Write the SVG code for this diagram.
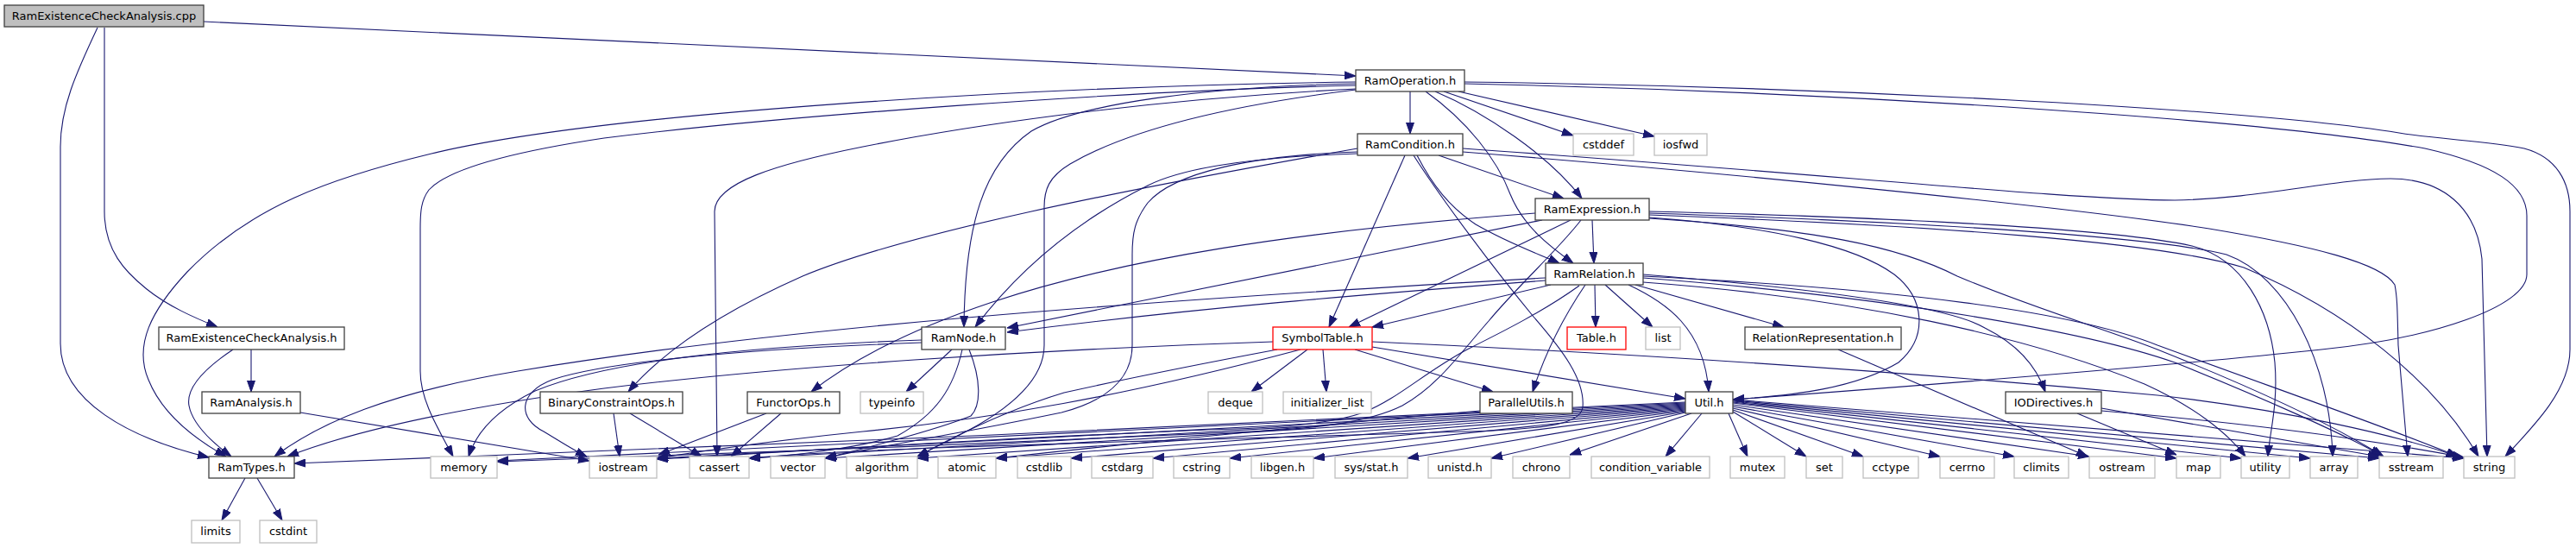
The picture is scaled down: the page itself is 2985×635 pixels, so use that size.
<svg xmlns="http://www.w3.org/2000/svg" width="2985" height="635" viewBox="0 0 2985 635">
<defs>
<marker id="a" markerWidth="13" markerHeight="10" refX="13" refY="5" orient="auto" markerUnits="userSpaceOnUse">
<path d="M0,0.5 L13,5 L0,9.5 z" fill="#191970" stroke="#191970" stroke-width="1"/>
</marker>
<style>
.n rect{fill:#fff;stroke:#404040;stroke-width:1.3}
.n.x rect{stroke:#bfbfbf}
.n.r rect{stroke:#ff0000}
.n.root rect{fill:#bfbfbf}
.n text{font-family:"DejaVu Sans","Liberation Sans",sans-serif;font-size:13px;text-anchor:middle;fill:#000}
#edges path{fill:none;stroke:#191970;stroke-width:1.1;marker-end:url(#a)}
</style>
</defs>
<rect width="2985" height="635" fill="#fff"/>
<g id="edges">
<path d="M236,25 L1571,88"/>
<path d="M113,32 C88,85 70,125 70,170 L70,398 C70,465 150,508 242,530"/>
<path d="M121,32 L121,245 C121,290 145,315 170,335 C195,355 225,368 252,379"/>
<path d="M291,405 L291,454"/>
<path d="M270,405 C240,425 215,448 219,470 C223,492 245,512 268,529"/>
<path d="M348,478 L683,534"/>
<path d="M284,554 L257,603"/>
<path d="M298,554 L327,603"/>
<path d="M1634,106 L1634,155"/>
<path d="M1663,106 C1720,130 1795,180 1833,230"/>
<path d="M1652,106 C1700,140 1735,185 1750,225 C1765,262 1795,285 1823,305"/>
<path d="M1673,106 L1823,157"/>
<path d="M1690,106 L1917,158"/>
<path d="M1697,95 C2100,100 2600,125 2780,154 C2830,162 2880,163 2925,172 C2962,182 2978,210 2978,245 L2978,405 C2978,450 2940,490 2903,529"/>
<path d="M1697,97 C2100,106 2600,135 2810,172 C2890,190 2928,215 2928,250 L2928,318 C2928,355 2820,392 2690,405 C2520,423 2250,445 2008,463"/>
<path d="M1571,95 C1200,100 700,130 500,178 C380,207 290,240 217,315 C175,360 155,400 172,440 C188,480 228,510 262,529"/>
<path d="M1571,99 C1300,105 900,135 700,160 C600,175 520,195 497,220 C488,232 487,245 487,265 L487,430 C487,462 505,492 525,529"/>
<path d="M1571,103 C1300,117 1100,150 1000,170 C900,190 828,212 828,245 L831,529"/>
<path d="M1571,97 C1400,100 1250,120 1195,152 C1140,190 1118,260 1117,379"/>
<path d="M1571,104 C1400,125 1300,155 1240,190 C1215,205 1210,220 1210,240 L1210,400 C1210,445 1160,480 1110,505 C1095,513 1080,520 1063,529"/>
<path d="M1667,180 L1812,230"/>
<path d="M1642,180 C1660,215 1680,240 1710,260 C1750,283 1785,295 1807,305"/>
<path d="M1628,180 L1540,379"/>
<path d="M1638,180 C1670,230 1730,310 1777,367 C1810,405 1837,440 1834,472 C1832,490 1800,497 1700,500 C1400,510 1000,518 868,531"/>
<path d="M1573,178 C1450,182 1370,195 1330,215 C1260,250 1190,300 1130,379"/>
<path d="M1573,172 C1300,220 1050,270 930,320 C835,362 770,405 728,454"/>
<path d="M1573,176 C1450,180 1360,200 1330,235 C1315,255 1312,270 1312,295 L1312,400 C1312,440 1280,465 1230,478 C1100,505 1000,520 956,531"/>
<path d="M1695,176 C2000,200 2400,240 2560,265 C2680,285 2760,305 2775,330 C2778,345 2778,360 2779,400 L2790,529"/>
<path d="M1695,172 C2100,200 2400,232 2520,232 C2620,230 2700,208 2770,207 C2830,207 2870,240 2876,300 L2882,529"/>
<path d="M1845,255 L1847,305"/>
<path d="M1787,255 L1167,380"/>
<path d="M1820,255 L1563,379"/>
<path d="M1779,247 C1500,268 1300,300 1150,350 C1060,380 990,415 940,454"/>
<path d="M1832,255 C1805,290 1760,330 1725,372 C1690,412 1665,448 1625,470 C1585,490 1520,497 1450,500 C1200,512 800,528 576,535"/>
<path d="M1911,245 C2200,252 2450,265 2540,285 C2600,300 2630,360 2636,420 C2640,470 2630,500 2628,529"/>
<path d="M1911,247 C2250,258 2500,275 2580,295 C2650,320 2700,420 2703,529"/>
<path d="M1911,249 C2250,262 2500,280 2600,310 C2720,360 2820,440 2872,529"/>
<path d="M1911,252 C2050,262 2150,285 2195,318 C2230,345 2235,390 2200,420 C2150,450 2080,458 2008,463"/>
<path d="M1911,253 C2100,265 2200,285 2268,320 C2350,355 2450,385 2500,405 C2600,445 2700,490 2762,529"/>
<path d="M1797,330 L1590,379"/>
<path d="M1791,325 C1600,340 1400,355 1167,385"/>
<path d="M1791,322 C1300,350 900,380 600,430 C450,455 370,490 318,529"/>
<path d="M1837,330 C1810,370 1790,410 1776,454"/>
<path d="M1830,331 C1790,360 1740,385 1700,405 C1650,432 1620,462 1580,478 C1540,492 1480,496 1400,498 C1100,510 900,525 761,532"/>
<path d="M1848,330 L1849,379"/>
<path d="M1860,330 L1915,379"/>
<path d="M1887,330 C1930,350 1975,380 1980,454"/>
<path d="M1895,330 L2067,379"/>
<path d="M1904,318 C2050,330 2250,350 2300,380 C2340,400 2360,425 2370,454"/>
<path d="M1904,320 C2200,335 2400,360 2500,400 C2650,455 2780,500 2848,529"/>
<path d="M1904,322 C2200,345 2420,385 2520,420 C2620,460 2720,505 2760,528"/>
<path d="M1904,327 C2150,345 2350,390 2485,445 C2540,470 2580,500 2602,529"/>
<path d="M1475,396 C1200,405 900,425 700,450 C550,470 420,495 333,529"/>
<path d="M1515,405 L1450,454"/>
<path d="M1533,405 L1537,454"/>
<path d="M1570,405 L1730,454"/>
<path d="M1590,402 L1953,462"/>
<path d="M1590,396 C1900,410 2200,430 2500,458 C2650,475 2780,505 2848,529"/>
<path d="M1507,405 C1300,460 1150,485 1000,500 C880,512 800,525 761,531"/>
<path d="M1480,405 C1400,420 1300,440 1233,455 C1150,480 1080,520 1063,529"/>
<path d="M1715,476 C1500,495 1300,515 1154,531"/>
<path d="M1953,466 C1500,490 800,520 341,537"/>
<path d="M1953,467 L576,534"/>
<path d="M1953,468 L761,531"/>
<path d="M1953,469 L868,531"/>
<path d="M1953,470 L956,531"/>
<path d="M1953,471 L1063,531"/>
<path d="M1953,472 L1154,531"/>
<path d="M1953,473 L1241,531"/>
<path d="M1953,474 L1336,531"/>
<path d="M1953,475 L1425,531"/>
<path d="M1953,476 L1522,531"/>
<path d="M1953,477 L1631,531"/>
<path d="M1953,478 L1728,531"/>
<path d="M1960,479 L1819,527"/>
<path d="M1972,479 L1930,529"/>
<path d="M2003,479 L2025,529"/>
<path d="M2008,477 L2093,529"/>
<path d="M2008,475 L2159,529"/>
<path d="M2008,473 L2248,529"/>
<path d="M2008,471 L2334,529"/>
<path d="M2008,469 L2421,529"/>
<path d="M2008,467 L2522,531"/>
<path d="M2008,466 L2597,531"/>
<path d="M2008,465 L2677,531"/>
<path d="M2008,464 L2757,531"/>
<path d="M2008,463 L2855,531"/>
<path d="M2407,479 L2522,527"/>
<path d="M2435,473 L2757,529"/>
<path d="M2435,476 C2600,490 2750,510 2855,530"/>
<path d="M2130,405 L2419,529"/>
<path d="M1103,405 L1050,454"/>
<path d="M1068,394 C850,402 700,420 620,453 C575,475 552,500 543,529"/>
<path d="M1068,397 C850,405 700,420 640,440 C600,455 600,485 630,500 C650,512 665,522 680,529"/>
<path d="M1115,405 C1105,450 1085,480 1040,505 C990,520 920,528 868,531"/>
<path d="M1123,405 C1137,440 1137,470 1125,482 C1080,500 1000,520 956,531"/>
<path d="M888,479 L763,527"/>
<path d="M905,479 L847,529"/>
<path d="M711,479 L718,529"/>
<path d="M730,479 L813,529"/>
</g>
<g id="nodes">
<g id="n_cpp" class="n root"><rect x="5" y="6" width="231" height="25"/><text x="120.5" y="22.5">RamExistenceCheckAnalysis.cpp</text></g>
<g id="n_ramop" class="n"><rect x="1571" y="81" width="126" height="25"/><text x="1634" y="97.5">RamOperation.h</text></g>
<g id="n_ramcond" class="n"><rect x="1573" y="155" width="122" height="25"/><text x="1634" y="171.5">RamCondition.h</text></g>
<g id="n_cstddef" class="n x"><rect x="1823" y="155" width="70" height="25"/><text x="1858" y="171.5">cstddef</text></g>
<g id="n_iosfwd" class="n x"><rect x="1917" y="155" width="61" height="25"/><text x="1947.5" y="171.5">iosfwd</text></g>
<g id="n_ramexpr" class="n"><rect x="1779" y="230" width="132" height="25"/><text x="1845" y="246.5">RamExpression.h</text></g>
<g id="n_ramrel" class="n"><rect x="1791" y="305" width="113" height="25"/><text x="1847.5" y="321.5">RamRelation.h</text></g>
<g id="n_ecah" class="n"><rect x="184" y="379" width="215" height="26"/><text x="291.5" y="396">RamExistenceCheckAnalysis.h</text></g>
<g id="n_ramnode" class="n"><rect x="1068" y="379" width="97" height="26"/><text x="1116.5" y="396">RamNode.h</text></g>
<g id="n_symtab" class="n r"><rect x="1475" y="379" width="115" height="26"/><text x="1532.5" y="396">SymbolTable.h</text></g>
<g id="n_table" class="n r"><rect x="1816" y="379" width="68" height="26"/><text x="1850" y="396">Table.h</text></g>
<g id="n_list" class="n x"><rect x="1907" y="379" width="40" height="26"/><text x="1927" y="396">list</text></g>
<g id="n_relrep" class="n"><rect x="2022" y="379" width="181" height="26"/><text x="2112.5" y="396">RelationRepresentation.h</text></g>
<g id="n_ramanalysis" class="n"><rect x="234" y="454" width="114" height="25"/><text x="291" y="470.5">RamAnalysis.h</text></g>
<g id="n_binops" class="n"><rect x="626" y="454" width="165" height="25"/><text x="708.5" y="470.5">BinaryConstraintOps.h</text></g>
<g id="n_functorops" class="n"><rect x="866" y="454" width="107" height="25"/><text x="919.5" y="470.5">FunctorOps.h</text></g>
<g id="n_typeinfo" class="n x"><rect x="997" y="454" width="73" height="25"/><text x="1033.5" y="470.5">typeinfo</text></g>
<g id="n_deque" class="n x"><rect x="1400" y="454" width="63" height="25"/><text x="1431.5" y="470.5">deque</text></g>
<g id="n_initlist" class="n x"><rect x="1487" y="454" width="102" height="25"/><text x="1538" y="470.5">initializer_list</text></g>
<g id="n_parutils" class="n"><rect x="1715" y="454" width="107" height="25"/><text x="1768.5" y="470.5">ParallelUtils.h</text></g>
<g id="n_util" class="n"><rect x="1953" y="454" width="55" height="25"/><text x="1980.5" y="470.5">Util.h</text></g>
<g id="n_iodir" class="n"><rect x="2324" y="454" width="111" height="25"/><text x="2379.5" y="470.5">IODirectives.h</text></g>
<g id="n_ramtypes" class="n"><rect x="242" y="529" width="99" height="25"/><text x="291.5" y="545.5">RamTypes.h</text></g>
<g id="n_memory" class="n x"><rect x="499" y="529" width="77" height="25"/><text x="537.5" y="545.5">memory</text></g>
<g id="n_iostream" class="n x"><rect x="683" y="529" width="78" height="25"/><text x="722" y="545.5">iostream</text></g>
<g id="n_cassert" class="n x"><rect x="799" y="529" width="69" height="25"/><text x="833.5" y="545.5">cassert</text></g>
<g id="n_vector" class="n x"><rect x="893" y="529" width="63" height="25"/><text x="924.5" y="545.5">vector</text></g>
<g id="n_algorithm" class="n x"><rect x="981" y="529" width="82" height="25"/><text x="1022" y="545.5">algorithm</text></g>
<g id="n_atomic" class="n x"><rect x="1087" y="529" width="67" height="25"/><text x="1120.5" y="545.5">atomic</text></g>
<g id="n_cstdlib" class="n x"><rect x="1179" y="529" width="62" height="25"/><text x="1210" y="545.5">cstdlib</text></g>
<g id="n_cstdarg" class="n x"><rect x="1265" y="529" width="71" height="25"/><text x="1300.5" y="545.5">cstdarg</text></g>
<g id="n_cstring" class="n x"><rect x="1360" y="529" width="65" height="25"/><text x="1392.5" y="545.5">cstring</text></g>
<g id="n_libgen" class="n x"><rect x="1450" y="529" width="72" height="25"/><text x="1486" y="545.5">libgen.h</text></g>
<g id="n_sysstat" class="n x"><rect x="1547" y="529" width="84" height="25"/><text x="1589" y="545.5">sys/stat.h</text></g>
<g id="n_unistd" class="n x"><rect x="1655" y="529" width="73" height="25"/><text x="1691.5" y="545.5">unistd.h</text></g>
<g id="n_chrono" class="n x"><rect x="1753" y="529" width="66" height="25"/><text x="1786" y="545.5">chrono</text></g>
<g id="n_condvar" class="n x"><rect x="1844" y="529" width="137" height="25"/><text x="1912.5" y="545.5">condition_variable</text></g>
<g id="n_mutex" class="n x"><rect x="2005" y="529" width="63" height="25"/><text x="2036.5" y="545.5">mutex</text></g>
<g id="n_set" class="n x"><rect x="2093" y="529" width="42" height="25"/><text x="2114" y="545.5">set</text></g>
<g id="n_cctype" class="n x"><rect x="2159" y="529" width="64" height="25"/><text x="2191" y="545.5">cctype</text></g>
<g id="n_cerrno" class="n x"><rect x="2248" y="529" width="63" height="25"/><text x="2279.5" y="545.5">cerrno</text></g>
<g id="n_climits" class="n x"><rect x="2334" y="529" width="63" height="25"/><text x="2365.5" y="545.5">climits</text></g>
<g id="n_ostream" class="n x"><rect x="2421" y="529" width="76" height="25"/><text x="2459" y="545.5">ostream</text></g>
<g id="n_map" class="n x"><rect x="2522" y="529" width="51" height="25"/><text x="2547.5" y="545.5">map</text></g>
<g id="n_utility" class="n x"><rect x="2597" y="529" width="56" height="25"/><text x="2625" y="545.5">utility</text></g>
<g id="n_array" class="n x"><rect x="2677" y="529" width="55" height="25"/><text x="2704.5" y="545.5">array</text></g>
<g id="n_sstream" class="n x"><rect x="2757" y="529" width="74" height="25"/><text x="2794" y="545.5">sstream</text></g>
<g id="n_string" class="n x"><rect x="2855" y="529" width="59" height="25"/><text x="2884.5" y="545.5">string</text></g>
<g id="n_limits" class="n x"><rect x="222" y="603" width="56" height="26"/><text x="250" y="620">limits</text></g>
<g id="n_cstdint" class="n x"><rect x="301" y="603" width="66" height="26"/><text x="334" y="620">cstdint</text></g>
</g>
</svg>
